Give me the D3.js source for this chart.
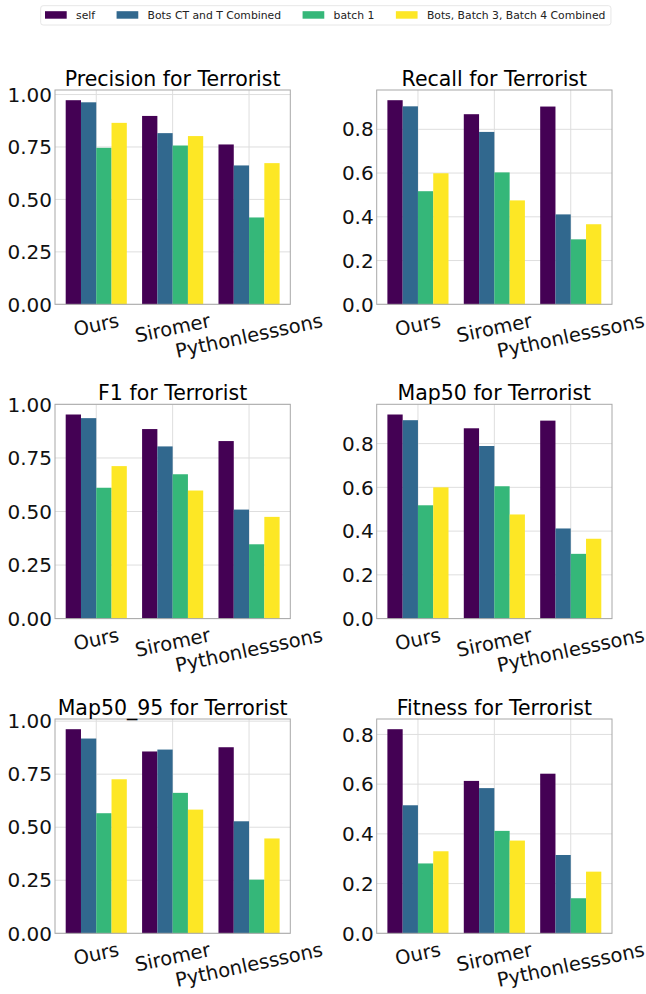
<!DOCTYPE html>
<html>
<head>
<meta charset="utf-8">
<script src="https://cdn.jsdelivr.net/npm/d3@7"></script>
<style>
  body { margin: 0; background: #fff; }
  text { font-family: "DejaVu Sans", sans-serif; }
</style>
</head>
<body>
<div id="chart"></div>
<script>
// Data
var categories = ["Ours", "Siromer", "Pythonlesssons"];
var seriesNames = ["self", "Bots CT and T Combined", "batch 1", "Bots, Batch 3, Batch 4 Combined"];
var seriesColors = ["#440154", "#31688e", "#35b779", "#fde725"];

// each row = one series, values for Ours, Siromer, Pythonlesssons
var precision = [[0.973, 0.898, 0.762], [0.963, 0.816, 0.662], [0.746, 0.757, 0.414], [0.865, 0.802, 0.673]];
var recall    = [[0.933, 0.869, 0.904], [0.905, 0.788, 0.411], [0.517, 0.603, 0.297], [0.599, 0.475, 0.366]];
var f1        = [[0.953, 0.885, 0.829], [0.936, 0.804, 0.509], [0.611, 0.674, 0.347], [0.712, 0.598, 0.475]];
var map50     = [[0.933, 0.870, 0.905], [0.907, 0.789, 0.412], [0.518, 0.605, 0.296], [0.600, 0.476, 0.365]];
var map5095   = [[0.962, 0.857, 0.877], [0.918, 0.866, 0.528], [0.566, 0.662, 0.253], [0.726, 0.583, 0.447]];
var fitness   = [[0.821, 0.613, 0.642], [0.515, 0.584, 0.315], [0.281, 0.412, 0.141], [0.330, 0.373, 0.248]];

var ticksQuarter = [0, 0.25, 0.5, 0.75, 1.0];
var ticksFifth = [0, 0.2, 0.4, 0.6, 0.8];

var panels = [
  { title: "Precision for Terrorist", values: precision, ticks: ticksQuarter, fmt: ".2f" },
  { title: "Recall for Terrorist", values: recall, ticks: ticksFifth, fmt: ".1f" },
  { title: "F1 for Terrorist", values: f1, ticks: ticksQuarter, fmt: ".2f" },
  { title: "Map50 for Terrorist", values: map50, ticks: ticksFifth, fmt: ".1f" },
  { title: "Map50_95 for Terrorist", values: map5095, ticks: ticksQuarter, fmt: ".2f" },
  { title: "Fitness for Terrorist", values: fitness, ticks: ticksFifth, fmt: ".1f" }
];

var svgWidth = 646;
var svgHeight = 994;
var colX = [55, 376.7];
var rowY = [90, 404.3, 719];
var width = 235.3;
var height = 214.3;
var barW = 0.2;
var rot = 12;

var svg = d3.select("#chart")
  .append("svg")
  .attr("width", svgWidth)
  .attr("height", svgHeight);

panels.forEach(function(p, k) {
  var g = svg.append("g")
    .attr("transform", `translate(${colX[k % 2]}, ${rowY[Math.floor(k / 2)]})`);

  var x = d3.scaleLinear().domain([-0.54, 2.54]).range([0, width]);
  var ymax = d3.max(p.values, row => d3.max(row)) * 1.05;
  var y = d3.scaleLinear().domain([0, ymax]).range([height, 0]);

  // grid
  g.selectAll(".gy").data(p.ticks).enter().append("line")
    .attr("x1", 0).attr("x2", width)
    .attr("y1", d => y(d)).attr("y2", d => y(d))
    .attr("stroke", "#dedede").attr("stroke-width", 1);
  g.selectAll(".gx").data(categories).enter().append("line")
    .attr("x1", (d, i) => x(i)).attr("x2", (d, i) => x(i))
    .attr("y1", 0).attr("y2", height)
    .attr("stroke", "#dedede").attr("stroke-width", 1);

  // bars
  p.values.forEach(function(row, j) {
    g.selectAll(".b" + j).data(row).enter().append("rect")
      .attr("x", (d, i) => x(i + (j - 1.5) * barW - barW / 2))
      .attr("width", x(barW) - x(0))
      .attr("y", d => y(d))
      .attr("height", d => height - y(d))
      .attr("fill", seriesColors[j]);
  });

  // frame
  g.append("rect")
    .attr("width", width).attr("height", height)
    .attr("fill", "none").attr("stroke", "#a8a8a8").attr("stroke-width", 1);

  // y tick labels
  var f = d3.format(p.fmt);
  g.selectAll(".yl").data(p.ticks).enter().append("text")
    .attr("x", -3)
    .attr("y", d => y(d))
    .attr("dy", "0.36em")
    .attr("text-anchor", "end")
    .attr("font-size", 20)
    .attr("fill", "#111")
    .text(d => f(d));

  // x tick labels, rotated
  var fs = 19.5;
  var rad = rot * Math.PI / 180;
  g.selectAll(".xl").data(categories).enter().append("text")
    .attr("text-anchor", "middle")
    .attr("dominant-baseline", "central")
    .attr("font-size", fs)
    .attr("fill", "#111")
    .text(d => d)
    .each(function(d, i) {
      var w = this.getComputedTextLength();
      var h = fs * 1.164;
      var cy = height + 5 + (w * Math.sin(rad) + h * Math.cos(rad)) / 2;
      d3.select(this)
        .attr("x", x(i)).attr("y", cy)
        .attr("transform", `rotate(${-rot}, ${x(i)}, ${cy})`);
    });

  // title
  g.append("text")
    .attr("x", width / 2)
    .attr("y", -4.5)
    .attr("text-anchor", "middle")
    .attr("font-size", 20.5)
    .attr("fill", "#000")
    .text(p.title);
});

// legend
var legend = svg.append("g");
var legBox = legend.append("rect")
  .attr("x", 40.7).attr("y", 5.7)
  .attr("width", 572).attr("height", 19.3)
  .attr("rx", 2.5)
  .attr("fill", "#fff").attr("stroke", "#e0e0e0").attr("stroke-width", 0.8);

var lx = 45;
seriesNames.forEach(function(name, j) {
  legend.append("rect")
    .attr("x", lx).attr("y", 11.2)
    .attr("width", 21.7).attr("height", 7.5)
    .attr("fill", seriesColors[j]);
  var t = legend.append("text")
    .attr("x", lx + 31)
    .attr("y", 15)
    .attr("dy", "0.36em")
    .attr("font-size", 10.8)
    .attr("fill", "#222")
    .text(name);
  lx = lx + 31 + t.node().getComputedTextLength() + 21.5;
});
legBox.attr("width", lx - 21.5 + 5.5 - 40.7);
</script>
</body>
</html>
